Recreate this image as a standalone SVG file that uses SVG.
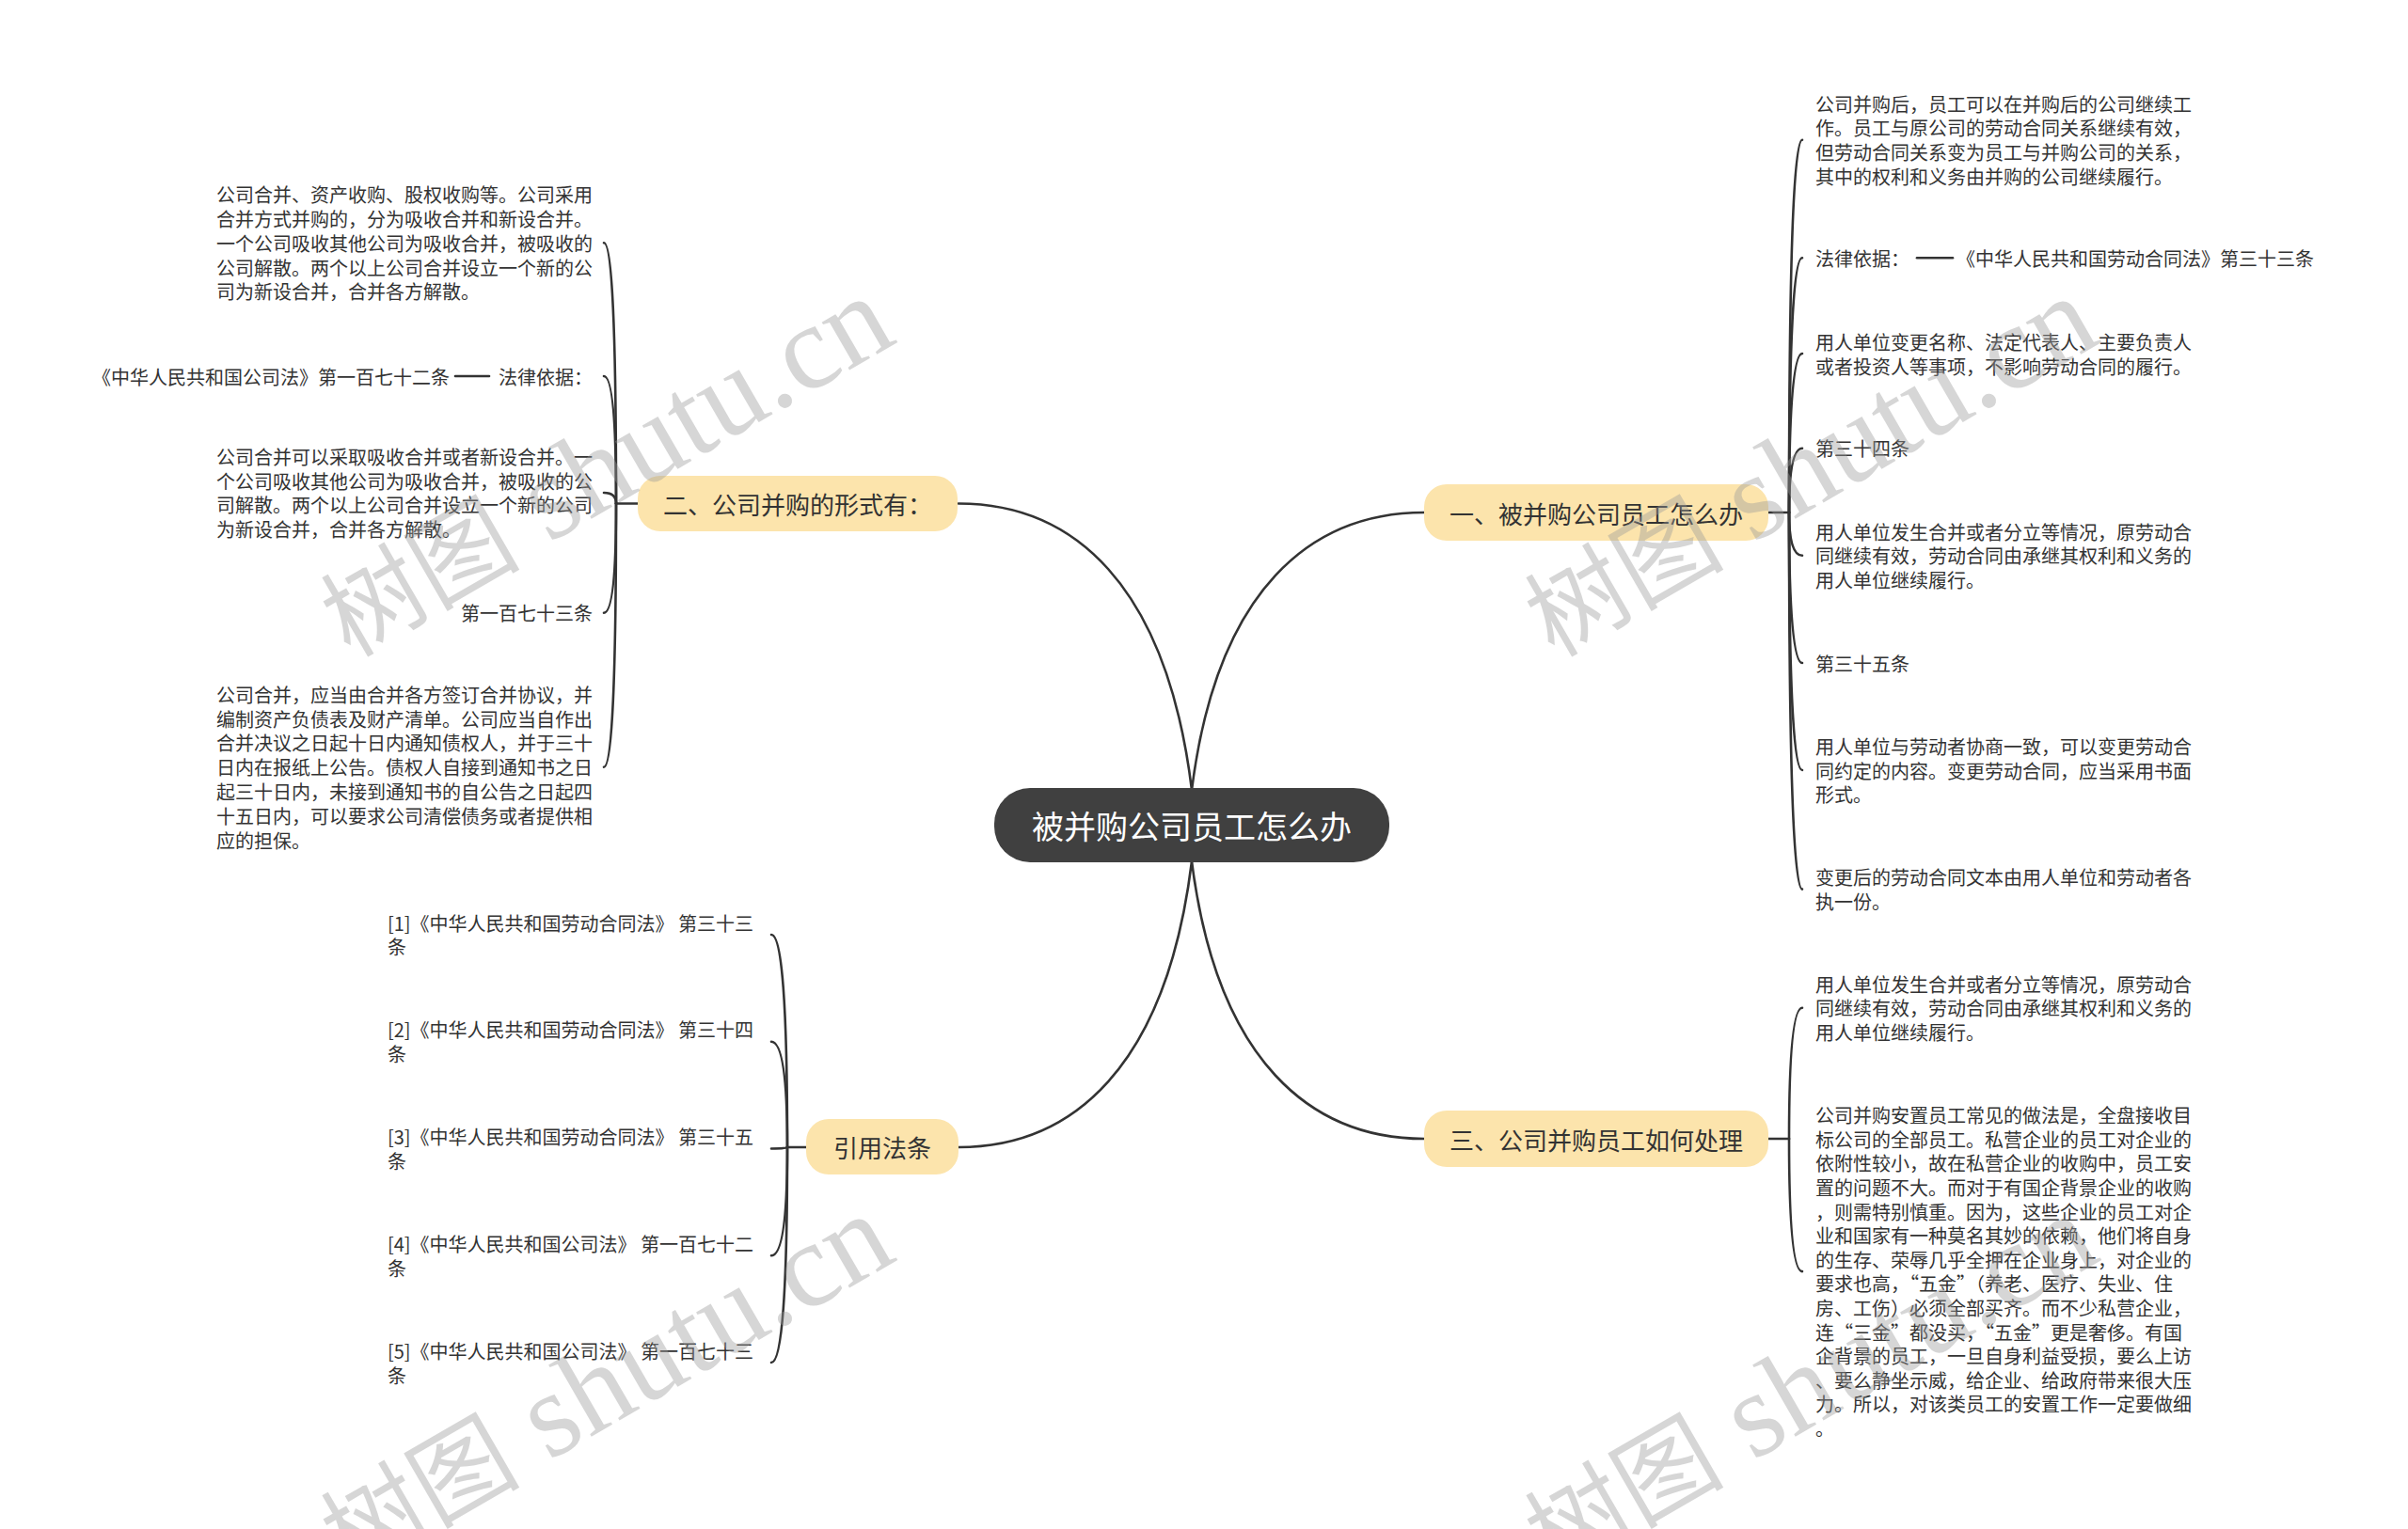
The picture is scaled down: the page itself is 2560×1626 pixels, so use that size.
<svg xmlns="http://www.w3.org/2000/svg" width="2560" height="1626" viewBox="0 0 2560 1626">
<style>
text { font-family: "Noto Sans CJK SC", "Noto Sans CJK JP", sans-serif; dominant-baseline: central; }
.leaf { font-size: 20px; fill: #333333; }
.end { text-anchor: end; }
.btxt { font-size: 26px; fill: #333333; text-anchor: middle; }
.bnode { fill: #fce4ac; }
.conn { fill: none; stroke: #333333; stroke-width: 2.6; stroke-linecap: round; }
.wm { fill: #9a9a9a; opacity: 0.4; dominant-baseline: alphabetic; }
</style>
<rect width="2560" height="1626" fill="#ffffff"/>

<g id="connectors">
  <path class="conn" d="M1267,840 C1240,620 1140,535.5 1019,535.5"/>
  <path class="conn" d="M1267,840 C1294,625 1395,545 1514,545"/>
  <path class="conn" d="M1267,916 C1240,1135 1140,1220 1019,1220"/>
  <path class="conn" d="M1267,916 C1294,1130 1395,1211 1514,1211"/>

  <path class="conn" d="M678,535.5 H655"/>
  <path class="conn" d="M655,535.5 Q655,258.3 642,258.3"/>
  <path class="conn" d="M655,535.5 Q655,400 642,400"/>
  <path class="conn" d="M655,535.5 Q655,524 642,524"/>
  <path class="conn" d="M655,535.5 Q655,651.7 642,651.7"/>
  <path class="conn" d="M655,535.5 Q655,815.7 642,815.7"/>
  <path class="conn" d="M484,400 H520"/>

  <path class="conn" d="M1880,545 H1902"/>
  <path class="conn" d="M1902,545 Q1902,148.7 1916,148.7"/>
  <path class="conn" d="M1902,545 Q1902,274.3 1916,274.3"/>
  <path class="conn" d="M1902,545 Q1902,376 1916,376"/>
  <path class="conn" d="M1902,545 Q1902,476.7 1916,476.7"/>
  <path class="conn" d="M1902,545 Q1902,590.8 1916,590.8"/>
  <path class="conn" d="M1902,545 Q1902,705 1916,705"/>
  <path class="conn" d="M1902,545 Q1902,819 1916,819"/>
  <path class="conn" d="M1902,545 Q1902,945.6 1916,945.6"/>
  <path class="conn" d="M2038,274.3 H2076"/>

  <path class="conn" d="M1880,1211 H1902"/>
  <path class="conn" d="M1902,1211 Q1902,1071.8 1916,1071.8"/>
  <path class="conn" d="M1902,1211 Q1902,1352.1 1916,1352.1"/>

  <path class="conn" d="M857,1220 H837"/>
  <path class="conn" d="M837,1220 Q837,994 820,994"/>
  <path class="conn" d="M837,1220 Q837,1107.7 820,1107.7"/>
  <path class="conn" d="M837,1220 Q837,1221.5 820,1221.5"/>
  <path class="conn" d="M837,1220 Q837,1335.3 820,1335.3"/>
  <path class="conn" d="M837,1220 Q837,1449 820,1449"/>
</g>

<g id="root">
  <rect x="1057" y="838" width="420" height="79" rx="38" fill="#404040"/>
  <text x="1267" y="877.5" font-size="34" fill="#ffffff" text-anchor="middle">被并购公司员工怎么办</text>
</g>

<g id="branch-2">
  <rect class="bnode" x="678" y="506" width="340" height="59" rx="24"/>
  <text class="btxt" x="848" y="535.5">二、公司并购的形式有：</text>
</g>
<g id="branch-1">
  <rect class="bnode" x="1514" y="515" width="366" height="60" rx="24"/>
  <text class="btxt" x="1697" y="545">一、被并购公司员工怎么办</text>
</g>
<g id="branch-3">
  <rect class="bnode" x="1514" y="1181" width="366" height="60" rx="24"/>
  <text class="btxt" x="1697" y="1211">三、公司并购员工如何处理</text>
</g>
<g id="branch-ref">
  <rect class="bnode" x="857" y="1190" width="162" height="59" rx="24"/>
  <text class="btxt" x="938" y="1219.5">引用法条</text>
</g>

<g id="leaf-L1">
  <text class="leaf" x="230" y="206.7">公司合并、资产收购、股权收购等。公司采用</text>
  <text class="leaf" x="230" y="232.5">合并方式并购的，分为吸收合并和新设合并。</text>
  <text class="leaf" x="230" y="258.3">一个公司吸收其他公司为吸收合并，被吸收的</text>
  <text class="leaf" x="230" y="284.1">公司解散。两个以上公司合并设立一个新的公</text>
  <text class="leaf" x="230" y="309.9">司为新设合并，合并各方解散。</text>
</g>
<g id="leaf-L2">
  <text class="leaf end" x="630" y="400">法律依据：</text>
</g>
<g id="leaf-L2a">
  <text class="leaf end" x="478" y="400">《中华人民共和国公司法》第一百七十二条</text>
</g>
<g id="leaf-L3">
  <text class="leaf" x="230" y="485.3">公司合并可以采取吸收合并或者新设合并。一</text>
  <text class="leaf" x="230" y="511.1">个公司吸收其他公司为吸收合并，被吸收的公</text>
  <text class="leaf" x="230" y="536.9">司解散。两个以上公司合并设立一个新的公司</text>
  <text class="leaf" x="230" y="562.7">为新设合并，合并各方解散。</text>
</g>
<g id="leaf-L4">
  <text class="leaf end" x="630" y="651.7">第一百七十三条</text>
</g>
<g id="leaf-L5">
  <text class="leaf" x="230" y="738.3">公司合并，应当由合并各方签订合并协议，并</text>
  <text class="leaf" x="230" y="764.1">编制资产负债表及财产清单。公司应当自作出</text>
  <text class="leaf" x="230" y="789.9">合并决议之日起十日内通知债权人，并于三十</text>
  <text class="leaf" x="230" y="815.7">日内在报纸上公告。债权人自接到通知书之日</text>
  <text class="leaf" x="230" y="841.5">起三十日内，未接到通知书的自公告之日起四</text>
  <text class="leaf" x="230" y="867.3">十五日内，可以要求公司清偿债务或者提供相</text>
  <text class="leaf" x="230" y="893.1">应的担保。</text>
</g>

<g id="leaf-R1">
  <text class="leaf" x="1930" y="110">公司并购后，员工可以在并购后的公司继续工</text>
  <text class="leaf" x="1930" y="135.8">作。员工与原公司的劳动合同关系继续有效，</text>
  <text class="leaf" x="1930" y="161.6">但劳动合同关系变为员工与并购公司的关系，</text>
  <text class="leaf" x="1930" y="187.4">其中的权利和义务由并购的公司继续履行。</text>
</g>
<g id="leaf-R2">
  <text class="leaf" x="1930" y="274.3">法律依据：</text>
</g>
<g id="leaf-R2a">
  <text class="leaf" x="2080" y="274.3">《中华人民共和国劳动合同法》第三十三条</text>
</g>
<g id="leaf-R3">
  <text class="leaf" x="1930" y="363.3">用人单位变更名称、法定代表人、主要负责人</text>
  <text class="leaf" x="1930" y="389.1">或者投资人等事项，不影响劳动合同的履行。</text>
</g>
<g id="leaf-R4">
  <text class="leaf" x="1930" y="476.7">第三十四条</text>
</g>
<g id="leaf-R5">
  <text class="leaf" x="1930" y="565">用人单位发生合并或者分立等情况，原劳动合</text>
  <text class="leaf" x="1930" y="590.8">同继续有效，劳动合同由承继其权利和义务的</text>
  <text class="leaf" x="1930" y="616.6">用人单位继续履行。</text>
</g>
<g id="leaf-R6">
  <text class="leaf" x="1930" y="705">第三十五条</text>
</g>
<g id="leaf-R7">
  <text class="leaf" x="1930" y="793.3">用人单位与劳动者协商一致，可以变更劳动合</text>
  <text class="leaf" x="1930" y="819.1">同约定的内容。变更劳动合同，应当采用书面</text>
  <text class="leaf" x="1930" y="844.9">形式。</text>
</g>
<g id="leaf-R8">
  <text class="leaf" x="1930" y="932.7">变更后的劳动合同文本由用人单位和劳动者各</text>
  <text class="leaf" x="1930" y="958.5">执一份。</text>
</g>

<g id="leaf-T1">
  <text class="leaf" x="1930" y="1046">用人单位发生合并或者分立等情况，原劳动合</text>
  <text class="leaf" x="1930" y="1071.8">同继续有效，劳动合同由承继其权利和义务的</text>
  <text class="leaf" x="1930" y="1097.6">用人单位继续履行。</text>
</g>
<g id="leaf-T2">
  <text class="leaf" x="1930" y="1185.7">公司并购安置员工常见的做法是，全盘接收目</text>
  <text class="leaf" x="1930" y="1211.3">标公司的全部员工。私营企业的员工对企业的</text>
  <text class="leaf" x="1930" y="1236.9">依附性较小，故在私营企业的收购中，员工安</text>
  <text class="leaf" x="1930" y="1262.5">置的问题不大。而对于有国企背景企业的收购</text>
  <text class="leaf" x="1930" y="1288.1">，则需特别慎重。因为，这些企业的员工对企</text>
  <text class="leaf" x="1930" y="1313.7">业和国家有一种莫名其妙的依赖，他们将自身</text>
  <text class="leaf" x="1930" y="1339.3">的生存、荣辱几乎全押在企业身上，对企业的</text>
  <text class="leaf" x="1930" y="1364.9">要求也高，“五金”（养老、医疗、失业、住</text>
  <text class="leaf" x="1930" y="1390.5">房、工伤）必须全部买齐。而不少私营企业，</text>
  <text class="leaf" x="1930" y="1416.1">连“三金”都没买，“五金”更是奢侈。有国</text>
  <text class="leaf" x="1930" y="1441.7">企背景的员工，一旦自身利益受损，要么上访</text>
  <text class="leaf" x="1930" y="1467.3">、要么静坐示威，给企业、给政府带来很大压</text>
  <text class="leaf" x="1930" y="1492.9">力。所以，对该类员工的安置工作一定要做细</text>
  <text class="leaf" x="1930" y="1518.5">。</text>
</g>

<g id="leaf-C1">
  <text class="leaf" x="412" y="981">[1]《中华人民共和国劳动合同法》 第三十三</text>
  <text class="leaf" x="412" y="1006.8">条</text>
</g>
<g id="leaf-C2">
  <text class="leaf" x="412" y="1094.8">[2]《中华人民共和国劳动合同法》 第三十四</text>
  <text class="leaf" x="412" y="1120.6">条</text>
</g>
<g id="leaf-C3">
  <text class="leaf" x="412" y="1208.6">[3]《中华人民共和国劳动合同法》 第三十五</text>
  <text class="leaf" x="412" y="1234.4">条</text>
</g>
<g id="leaf-C4">
  <text class="leaf" x="412" y="1322.4">[4]《中华人民共和国公司法》 第一百七十二</text>
  <text class="leaf" x="412" y="1348.2">条</text>
</g>
<g id="leaf-C5">
  <text class="leaf" x="412" y="1436.2">[5]《中华人民共和国公司法》 第一百七十三</text>
  <text class="leaf" x="412" y="1462">条</text>
</g>

<g id="watermarks">
  <text class="wm" transform="translate(372,700) rotate(-30)"><tspan font-size="106">树图</tspan><tspan font-family="Liberation Serif, serif" font-size="128"> shutu.cn</tspan></text>
  <text class="wm" transform="translate(1652,700) rotate(-30)"><tspan font-size="106">树图</tspan><tspan font-family="Liberation Serif, serif" font-size="128"> shutu.cn</tspan></text>
  <text class="wm" transform="translate(372,1676) rotate(-30)"><tspan font-size="106">树图</tspan><tspan font-family="Liberation Serif, serif" font-size="128"> shutu.cn</tspan></text>
  <text class="wm" transform="translate(1652,1676) rotate(-30)"><tspan font-size="106">树图</tspan><tspan font-family="Liberation Serif, serif" font-size="128"> shutu.cn</tspan></text>
</g>
</svg>
